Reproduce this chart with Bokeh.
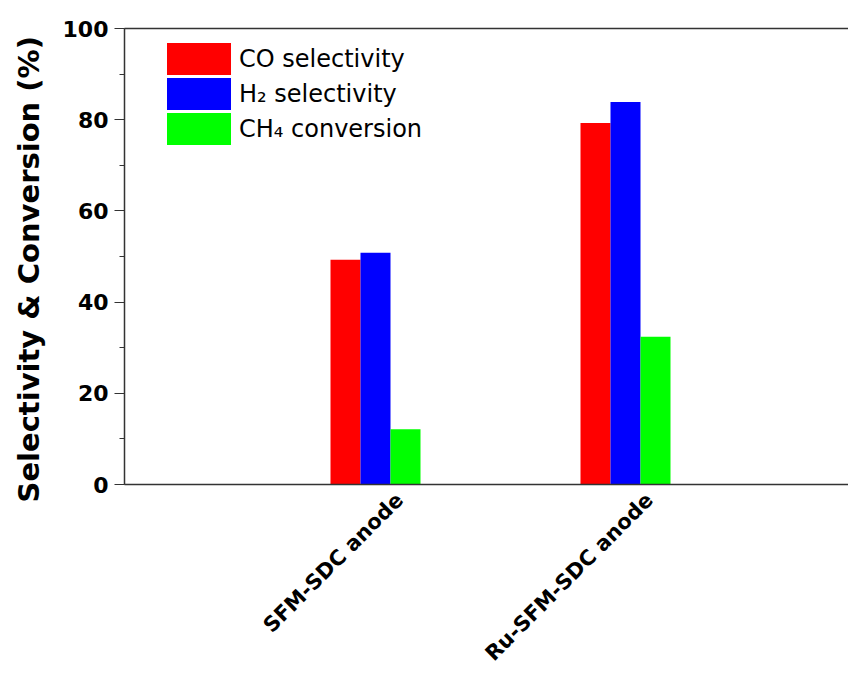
import math
from bokeh.plotting import figure
from bokeh.models import (Range1d, LinearAxis, FixedTicker, SingleIntervalTicker,
                          ColumnDataSource, Legend, LegendItem, Title)
from bokeh.transform import dodge
from bokeh.embed import file_html
from bokeh.resources import INLINE

# ---- data ----
categories = ["SFM-SDC anode", "Ru-SFM-SDC anode"]
cat_pos = [1, 2]
co_selectivity = [49.3, 79.3]
h2_selectivity = [50.8, 83.9]
ch4_conversion = [12.1, 32.4]
series_names = ["CO selectivity", "H\u2082 selectivity", "CH\u2084 conversion"]
series_colors = ["#FF0000", "#0000FF", "#00FF00"]
y_label = "Selectivity & Conversion (%)"

# ---- style constants ----
bw = 0.12            # bar width (data units)
label_shift = 0.096  # horizontal shift of the rotated category labels
axis_color = "#333333"

src = ColumnDataSource(dict(pos=cat_pos, co=co_selectivity, h2=h2_selectivity, ch4=ch4_conversion))

p = figure(width=848, height=677, output_backend="svg", toolbar_location=None,
           x_range=Range1d(-0.004, 2.892), y_range=Range1d(0, 100),
           min_border_left=124, min_border_top=28, min_border_right=0, min_border_bottom=193)
p.outline_line_color = None
p.xgrid.visible = False
p.ygrid.visible = False
p.background_fill_color = "white"

cols = ["co", "h2", "ch4"]
offsets = [-bw, 0, bw]
for col, off, color in zip(cols, offsets, series_colors):
    p.vbar(x=dodge("pos", off, range=p.x_range), top=col, width=bw, source=src,
           fill_color=color, line_color=None)

# legend proxies: zero-size bars (nothing visible in the plot), thick outline so the
# legend swatches come out as large as in the reference
leg_renderers = [p.vbar(x="pos", top=col, bottom=col, width=0, source=src,
                        fill_color=c, line_color=c, line_width=4, line_join="miter")
                 for col, c in zip(cols, series_colors)]

# y axis
ya = p.yaxis[0]
ya.ticker = SingleIntervalTicker(interval=20, num_minor_ticks=2)
ya.major_label_text_font = "DejaVu Sans"
ya.major_label_text_font_style = "bold"
ya.major_label_text_font_size = "22px"
ya.major_label_text_color = "black"
ya.major_label_standoff = 6
ya.major_tick_out = 10
ya.major_tick_in = 0
ya.minor_tick_out = 5
ya.minor_tick_in = 0
ya.axis_line_color = axis_color
ya.major_tick_line_color = axis_color
ya.minor_tick_line_color = axis_color
ya.axis_line_width = 1.5

# y axis title (a left-side title so that it can be offset like the reference)
ytitle = Title(text=y_label, align="left", offset=-18, vertical_align="top",
               text_font="DejaVu Sans", text_font_style="bold", text_font_size="29px",
               text_color="black", standoff=23)
p.add_layout(ytitle, "left")

# x axis
xa = p.xaxis[0]
label_ticks = [c + label_shift for c in cat_pos]
xa.ticker = FixedTicker(ticks=label_ticks)
xa.major_label_overrides = {t: n for t, n in zip(label_ticks, categories)}
xa.major_label_orientation = math.pi / 4
xa.major_label_text_font = "DejaVu Sans"
xa.major_label_text_font_style = "bold"
xa.major_label_text_font_size = "21px"
xa.major_label_text_color = "black"
xa.major_label_standoff = 12
xa.major_tick_out = 0
xa.major_tick_in = 0
xa.minor_tick_line_color = None
xa.major_tick_line_color = None
xa.axis_line_color = axis_color
xa.axis_line_width = 1.5

# top border line
top_axis = LinearAxis(ticker=FixedTicker(ticks=[]), major_label_text_font_size="0px",
                      major_tick_out=0, major_tick_in=0, minor_tick_out=0, minor_tick_in=0,
                      axis_line_color=axis_color, axis_line_width=1.5)
p.add_layout(top_axis, "above")

legend = Legend(items=[LegendItem(label=n, renderers=[r]) for n, r in zip(series_names, leg_renderers)],
                location=(37, 338))
legend.glyph_width = 75
legend.glyph_height = 35
legend.label_height = 20
legend.spacing = 0
legend.padding = 0
legend.margin = 0
legend.label_standoff = 3
legend.label_text_font = "DejaVu Sans"
legend.label_text_font_size = "24px"
legend.label_text_color = "black"
legend.border_line_color = None
legend.background_fill_alpha = 0
p.add_layout(legend, "center")

open("out.html", "w").write(file_html(p, INLINE))
